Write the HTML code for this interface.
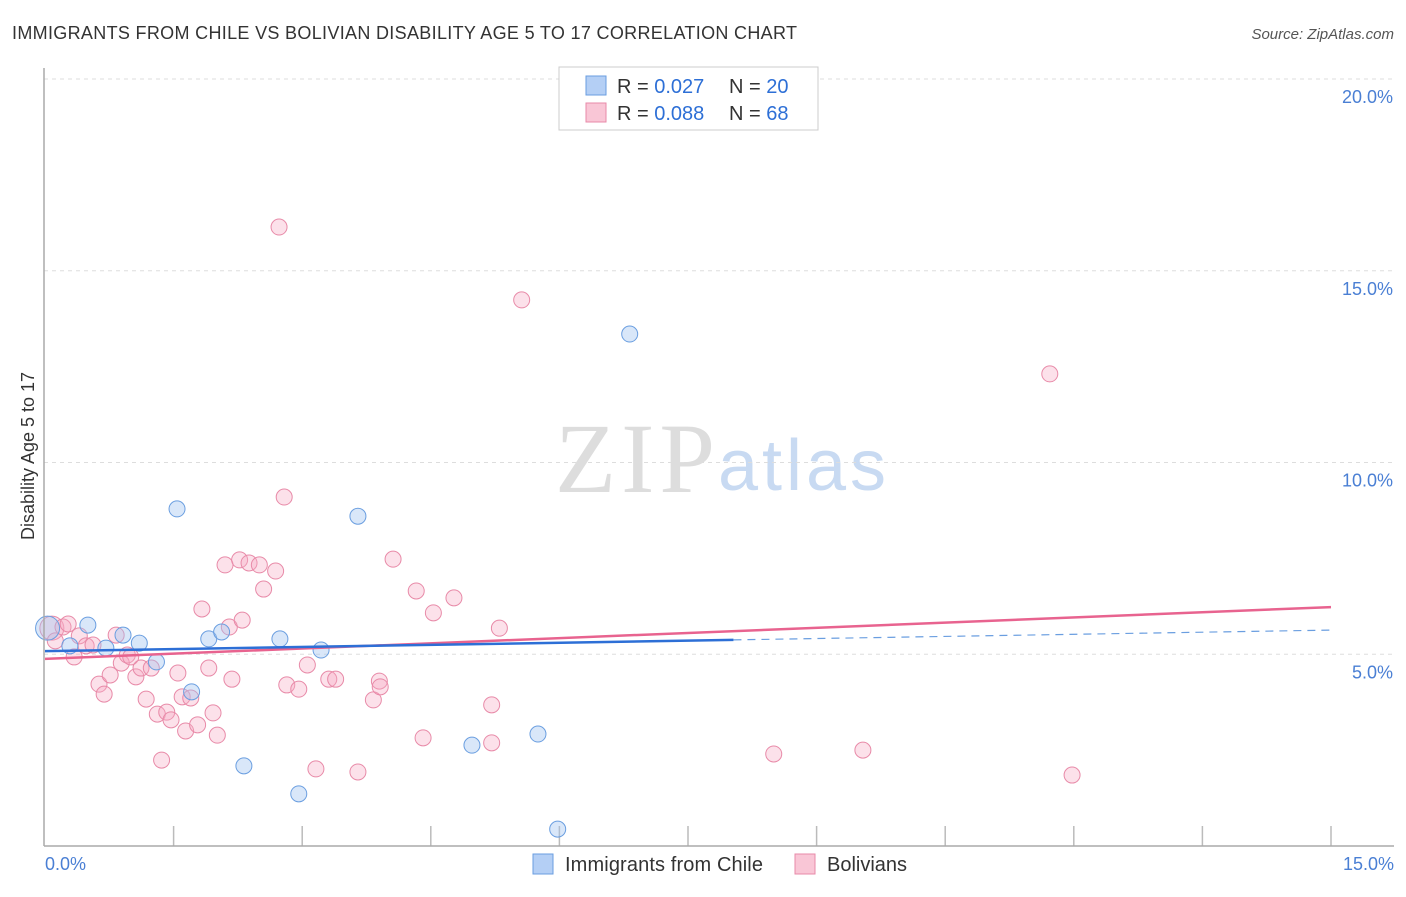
<!DOCTYPE html>
<html><head><meta charset="utf-8"><style>
body{margin:0;background:#fff;font-family:"Liberation Sans",sans-serif}
</style></head><body>
<svg id="c" width="1406" height="892" font-family="Liberation Sans, sans-serif">
<text x="12" y="39" font-size="18" fill="#333" textLength="785">IMMIGRANTS FROM CHILE VS BOLIVIAN DISABILITY AGE 5 TO 17 CORRELATION CHART</text>
<text x="1394" y="39" font-size="15" fill="#555" font-style="italic" text-anchor="end">Source: ZipAtlas.com</text>
<text x="0" y="0" font-size="18" fill="#333" text-anchor="middle" transform="translate(34,456) rotate(-90)">Disability Age 5 to 17</text>
<text x="635" y="492" font-size="100" fill="#ddd" style="font-family:'Liberation Serif',serif" text-anchor="middle" textLength="160">ZIP</text>
<text x="802" y="490" font-size="72" fill="#c8daf2" text-anchor="middle" textLength="168">atlas</text>
<g id="grid"></g><g id="pts"></g><g id="lines"></g>
<line x1="44" y1="68" x2="44" y2="846" stroke="#aaa" stroke-width="1.5"/>
<line x1="44" y1="846" x2="1394" y2="846" stroke="#aaa" stroke-width="1.5"/>
<text x="45" y="870" font-size="18" fill="#4a7fd4">0.0%</text>
<text x="1394" y="870" font-size="18" fill="#4a7fd4" text-anchor="end">15.0%</text>
<g>
<rect x="559" y="67" width="259" height="63" fill="#fff" stroke="#ccc"/>
<rect x="586" y="76" width="20" height="19" fill="#b4cff5" stroke="#6a9ee0"/>
<rect x="586" y="103" width="20" height="19" fill="#f9c6d6" stroke="#e88aa8"/>
<text x="617" y="93" font-size="20" fill="#333">R = <tspan fill="#2d6fd6">0.027</tspan><tspan x="729">N = </tspan><tspan fill="#2d6fd6">20</tspan></text>
<text x="617" y="120" font-size="20" fill="#333">R = <tspan fill="#2d6fd6">0.088</tspan><tspan x="729">N = </tspan><tspan fill="#2d6fd6">68</tspan></text>
</g>
<g>
<rect x="533" y="854" width="20" height="20" fill="#b4cff5" stroke="#6a9ee0"/>
<text x="565" y="871" font-size="20" fill="#333" textLength="198">Immigrants from Chile</text>
<rect x="795" y="854" width="20" height="20" fill="#f9c6d6" stroke="#e88aa8"/>
<text x="827" y="871" font-size="20" fill="#333" textLength="80">Bolivians</text>
</g>
</svg>
<script>
const yTicks=[5,10,15,20];
const xTicks=[1.5,3,4.5,6,7.5,9,10.5,12,13.5,15];
const blueX=[0.03,0.50,0.29,0.71,0.91,1.10,1.30,1.54,1.71,1.91,2.06,2.32,2.74,2.96,3.22,3.65,4.98,5.75,5.98,6.82];
const blueY=[5.68,5.76,5.22,5.16,5.50,5.29,4.80,8.79,4.02,5.40,5.58,2.09,5.40,1.36,5.11,8.60,2.63,2.92,0.44,13.35];
const pinkX=[0.08,0.12,0.21,0.27,0.34,0.40,0.48,0.56,0.63,0.69,0.76,0.83,0.89,0.96,1.00,1.06,1.12,1.18,1.24,1.31,1.36,1.42,1.47,1.55,1.60,1.64,1.70,1.78,1.83,1.91,1.96,2.01,2.10,2.15,2.18,2.27,2.30,2.38,2.50,2.55,2.69,2.73,2.79,2.82,2.96,3.06,3.16,3.31,3.39,3.65,3.83,3.90,3.91,4.06,4.33,4.41,4.53,4.77,5.21,5.21,5.30,5.56,8.50,9.54,11.72,11.98];
const pinkY=[5.68,5.35,5.71,5.79,4.93,5.48,5.22,5.24,4.22,3.96,4.46,5.50,4.77,4.98,4.93,4.41,4.64,3.83,4.64,3.44,2.24,3.49,3.29,4.51,3.89,3.00,3.86,3.16,6.18,4.64,3.47,2.89,7.33,5.71,4.35,7.46,5.89,7.38,7.33,6.70,7.17,16.14,9.10,4.20,4.09,4.72,2.01,4.35,4.35,1.93,3.81,4.30,4.15,7.48,6.65,2.82,6.08,6.47,3.68,2.69,5.68,14.24,2.40,2.50,12.31,1.85];
const blueTrend=[5.08,5.63];
const pinkTrend=[4.88,6.23];
const X=v=>45+v*(1286/15), Y=v=>846-v*38.35;
const NS='http://www.w3.org/2000/svg';
function mk(t,a,p){const e=document.createElementNS(NS,t);for(const k in a)e.setAttribute(k,a[k]);p.appendChild(e);return e;}
const grid=document.getElementById('grid'),pts=document.getElementById('pts'),lines=document.getElementById('lines');
yTicks.forEach(t=>{
 const l=mk('line',{x1:44,x2:1394,y1:Y(t),y2:Y(t),stroke:'#ddd','stroke-dasharray':'4,4'},grid);
 
 
 const tx=mk('text',{x:1393,y:Y(t)+24,'font-size':18,fill:'#4a7fd4','text-anchor':'end'},grid);
 tx.textContent=t.toFixed(1)+'%';
 
 
});
xTicks.forEach(t=>{
 const l=mk('line',{x1:X(t),x2:X(t),y1:826,y2:846,stroke:'#bbb','stroke-width':1.5},grid);
 
 
});
pinkX.forEach((x,i)=>{
 const c=mk('circle',{cx:X(x),cy:Y(pinkY[i]),r:i==0?12:8,fill:'rgba(245,170,195,0.35)',stroke:'#e88aa8','stroke-width':1},pts);
 
 
});
blueX.forEach((x,i)=>{
 const c=mk('circle',{cx:X(x),cy:Y(blueY[i]),r:i==0?12:8,fill:'rgba(160,196,240,0.4)',stroke:'#6a9ee0','stroke-width':1},pts);
 
 
});
const bAt=v=>blueTrend[0]+(blueTrend[1]-blueTrend[0])*v/15;
const pAt=v=>pinkTrend[0]+(pinkTrend[1]-pinkTrend[0])*v/15;
let l=mk('line',{x1:X(0),y1:Y(pAt(0)),x2:X(15),y2:Y(pAt(15)),stroke:'#e8638f','stroke-width':2.5},lines);


l=mk('line',{x1:X(0),y1:Y(bAt(0)),x2:X(8.03),y2:Y(bAt(8.03)),stroke:'#2d6fd6','stroke-width':2.5},lines);


l=mk('line',{x1:X(8.03),y1:Y(bAt(8.03)),x2:X(15),y2:Y(bAt(15)),stroke:'#6a9ee0','stroke-width':1.2,'stroke-dasharray':'8,6'},lines);


</script>
</body></html>
